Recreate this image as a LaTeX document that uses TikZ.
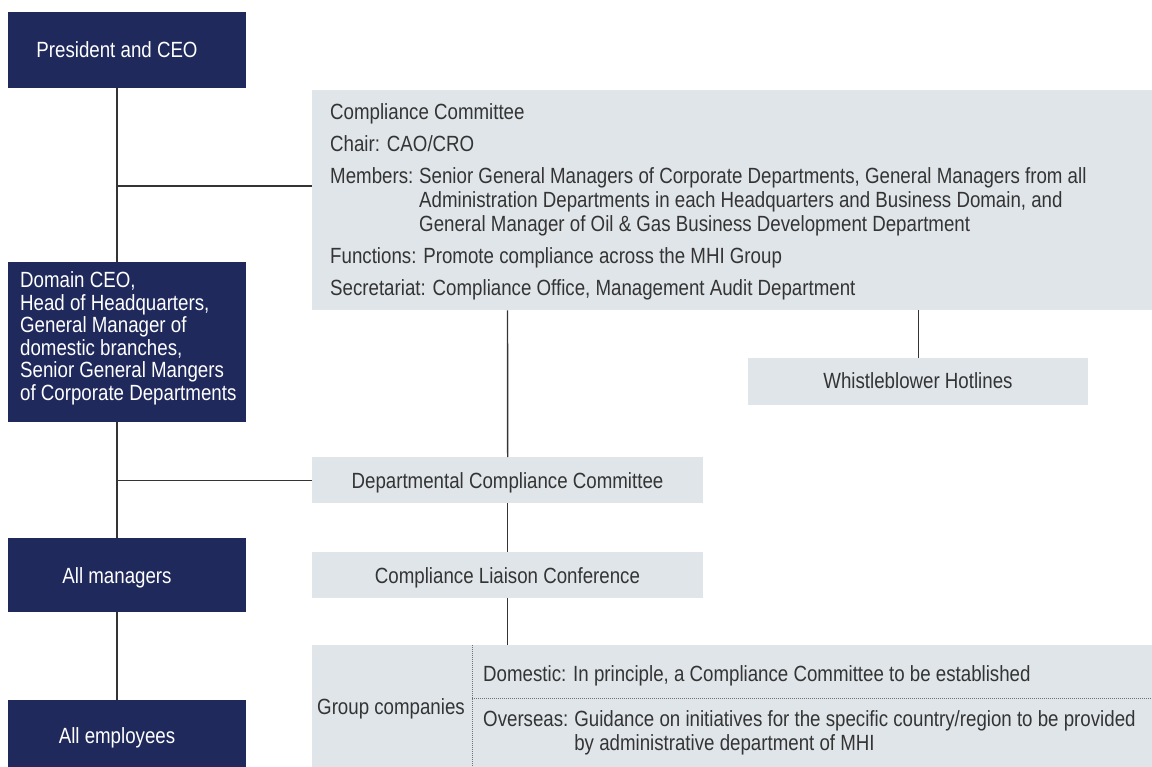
\documentclass[tikz,border=0pt]{standalone}
\usepackage{fontspec}
\setmainfont{Liberation Sans}[FakeStretch=0.85]
\definecolor{navy}{RGB}{31,41,92}
\definecolor{paleblue}{RGB}{224,229,233}
\definecolor{inkgray}{RGB}{52,52,52}

\begin{document}
\begin{tikzpicture}[x=1pt, y=-1pt, font=\fontsize{22}{24}\selectfont,
        darkbox/.style={fill=navy, inner sep=0pt, anchor=north west},
        palebox/.style={fill=paleblue, inner sep=0pt, anchor=north west},
        darktext/.style={text=white, inner sep=0pt, anchor=base},
        paletext/.style={text=inkgray, inner sep=0pt, anchor=base west},
        link/.style={draw=inkgray, line width=1.4pt},
        divider/.style={draw=inkgray!70, line width=1pt, densely dotted}]
            \useasboundingbox (0,0) rectangle (1152,767);

            % left column
            \node[darkbox, minimum width=238pt, minimum height=76pt] (ceo) at (8,12) {};
            \node[darkbox, minimum width=238pt, minimum height=160pt] (domain) at (8,262) {};
            \node[darkbox, minimum width=238pt, minimum height=74pt] (mgr) at (8,538) {};
            \node[darkbox, minimum width=238pt, minimum height=67pt] (staff) at (8,700) {};

            \node[darktext] (ceotext) at (117,58) {President and CEO};
            \node[darktext] (mgrtext) at (117,583) {All managers};
            \node[darktext] (stafftext) at (117,743) {All employees};
            \node[darktext, anchor=base west] (dom1) at (20,288) {Domain CEO,};
            \node[darktext, anchor=base west] (dom2) at ([yshift=-22.4pt]dom1.base west) {Head of Headquarters,};
            \node[darktext, anchor=base west] (dom3) at ([yshift=-22.4pt]dom2.base west) {General Manager of};
            \node[darktext, anchor=base west] (dom4) at ([yshift=-22.4pt]dom3.base west) {domestic branches,};
            \node[darktext, anchor=base west] (dom5) at ([yshift=-22.4pt]dom4.base west) {Senior General Mangers};
            \node[darktext, anchor=base west] (dom6) at ([yshift=-22.4pt]dom5.base west) {of Corporate Departments};

            % committee boxes
            \node[palebox, minimum width=840pt, minimum height=220pt] (cc) at (312,90) {};
            \node[palebox, minimum width=340pt, minimum height=47pt] (whistle) at (748,358) {};
            \node[palebox, minimum width=391pt, minimum height=46pt] (dept) at (312,457) {};
            \node[palebox, minimum width=391pt, minimum height=46pt] (liaison) at (312,552) {};
            \node[palebox, minimum width=840pt, minimum height=122pt] (group) at (312,645) {};

            \node[paletext] (cctitle) at (330,120) {Compliance Committee};
            \node[paletext] (chair) at (330,152) {Chair: CAO/CRO};
            \node[paletext] (memlabel) at (330,184) {Members:};
            \node[paletext] (mem1) at ([xshift=5.5pt]memlabel.base east) {Senior General Managers of Corporate Departments, General Managers from all};
            \node[paletext] (mem2) at ([yshift=-24pt]mem1.base west) {Administration Departments in each Headquarters and Business Domain, and};
            \node[paletext] (mem3) at ([yshift=-24pt]mem2.base west) {General Manager of Oil \& Gas Business Development Department};
            \node[paletext] (func) at (330,264) {Functions: Promote compliance across the MHI Group};
            \node[paletext] (secr) at (330,296) {Secretariat: Compliance Office, Management Audit Department};

            \node[paletext, anchor=base] (whistletext) at (918,389) {Whistleblower Hotlines};
            \node[paletext, anchor=base] (depttext) at (507.5,488) {Departmental Compliance Committee};
            \node[paletext, anchor=base] (liaisontext) at (507.5,583) {Compliance Liaison Conference};

            \node[paletext, anchor=base] (grouptext) at (391,714) {Group companies};
            \node[paletext] (domestic) at (483,681) {Domestic: In principle, a Compliance Committee to be established};
            \node[paletext] (ovlabel) at (483,726) {Overseas:};
            \node[paletext] (ov1) at ([xshift=5.5pt]ovlabel.base east) {Guidance on initiatives for the specific country/region to be provided};
            \node[paletext] (ov2) at ([yshift=-24pt]ov1.base west) {by administrative department of MHI};

            \draw[divider] (group.north -| 472,0) -- (group.south -| 472,0);
            \draw[divider] (472,698) -- (group.east |- 0,698);

            % connectors
            \coordinate (spine) at (117,0);
            \coordinate (trunk) at (507.5,0);
            \coordinate (ccjoin) at (117,186);
            \draw[link] (ceo.south -| spine) -- (domain.north -| spine);
            \draw[link] (domain.south -| spine) -- (mgr.north -| spine);
            \draw[link] (mgr.south -| spine) -- (staff.north -| spine);
            \draw[link] (ccjoin) -- (ccjoin -| cc.west);
            \draw[link] (dept.west -| spine) -- (dept.west);
            \draw[link] (cc.south -| trunk) -- (dept.north);
            \draw[link] (dept.south) -- (liaison.north);
            \draw[link] (liaison.south) -- (group.north -| liaison.south);
            \draw[link] (cc.south -| whistle.north) -- (whistle.north);
        \end{tikzpicture}
\end{document}
